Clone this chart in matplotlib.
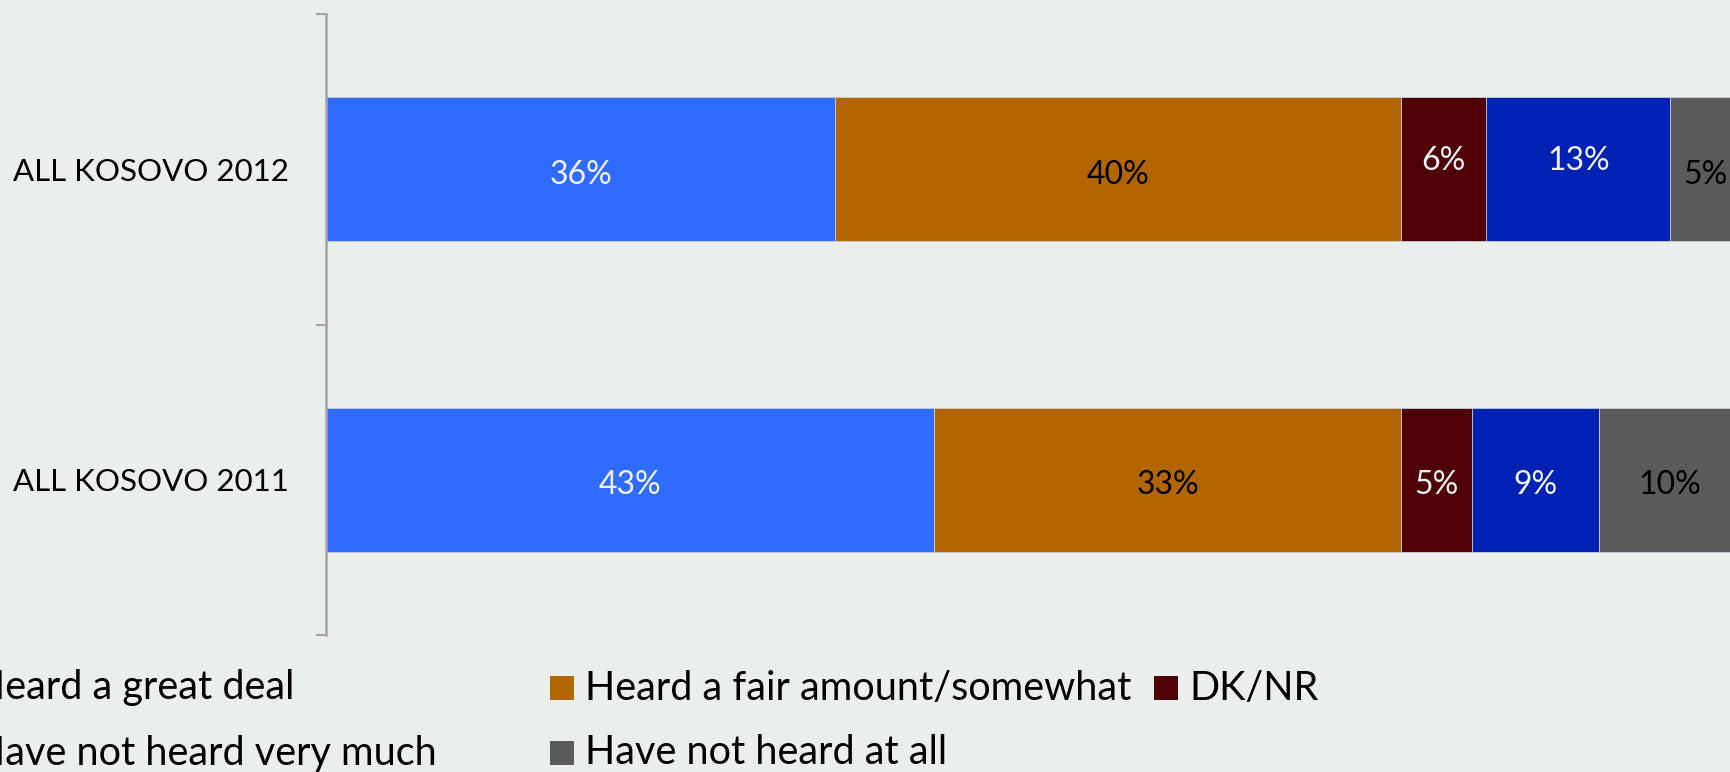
import matplotlib
matplotlib.use("Agg")
import matplotlib.pyplot as plt
from matplotlib.patches import Rectangle

# Survey data: share of respondents per answer, by year
categories = ["ALL KOSOVO 2012", "ALL KOSOVO 2011"]
series_names = [
    "Heard a great deal",
    "Heard a fair amount/somewhat",
    "DK/NR",
    "Have not heard very much",
    "Have not heard at all",
]
great_deal = [36, 43]
fair_amount = [40, 33]
dk_nr = [6, 5]
not_very_much = [13, 9]
not_at_all = [5, 10]

values = [great_deal, fair_amount, dk_nr, not_very_much, not_at_all]
colors = ["#2F6BFF", "#B36600", "#4E0006", "#0022B4", "#5B5B5B"]
label_colors = ["#F2F2F2", "#000000", "#F2F2F2", "#F2F2F2", "#000000"]

W, H = 1731, 772
DPI = 100
BG = "#EBEFEC"
FONT = "Lato"

fig = plt.figure(figsize=(W / DPI, H / DPI), dpi=DPI, facecolor=BG)

# plot area in pixels (left, top, right, bottom); the full 100% runs past the right edge
left_px, top_px, right_px, bottom_px = 326, 14, 1741, 635
ax = fig.add_axes([left_px / W, 1 - bottom_px / H,
                   (right_px - left_px) / W, (bottom_px - top_px) / H])
ax.set_facecolor(BG)
ax.set_xlim(0, 100)
ax.set_ylim(-0.5, 1.5)

ypos = [1, 0]  # first category on top
bar_h = 0.463

lefts = [0, 0]
for si, (vals, col, lcol) in enumerate(zip(values, colors, label_colors)):
    bars = ax.barh(ypos, vals, left=lefts, height=bar_h, color=col,
                   edgecolor="#C9CCD6", linewidth=0.6, label=series_names[si])
    for ci, (b, v) in enumerate(zip(bars, vals)):
        cx = lefts[ci] + v / 2
        # small vertical nudge of the value label inside the bar
        dy = -0.025 if (ci == 0 and si in (2, 3)) else 0.017
        ax.text(cx, ypos[ci] - dy, f"{v}%", ha="center", va="center",
                color=lcol, fontsize=23, family=FONT)
    lefts = [l + v for l, v in zip(lefts, vals)]

# axes styling: only the left category axis is shown
for side in ("top", "right", "bottom"):
    ax.spines[side].set_visible(False)
ax.spines["left"].set_color("#A3A3A3")
ax.spines["left"].set_linewidth(1.8)
ax.set_xticks([])
ax.set_yticks(ypos)
ax.set_yticklabels(categories, fontsize=22.5, family=FONT, color="#000000")
ax.tick_params(axis="y", which="major", length=0, pad=26.6)
ax.set_yticks([-0.5, 0.5, 1.5], minor=True)
ax.tick_params(axis="y", which="minor", length=7.2, width=1.5, color="#A3A3A3")

# legend laid out in two rows, Excel style with fixed column positions
legend_cols_px = [-60, 550, 1154]
legend_rows_px = [688, 753]
legend_order = [(0, 0, 0), (1, 0, 1), (2, 0, 2), (3, 1, 0), (4, 1, 1)]
sw = 24
for si, r, c in legend_order:
    x0 = legend_cols_px[c]
    yc = legend_rows_px[r]
    fig.patches.append(Rectangle((x0 / W, 1 - (yc + sw / 2) / H), sw / W, sw / H,
                                 transform=fig.transFigure, facecolor=colors[si],
                                 edgecolor="none"))
    fig.text((x0 + sw + 11) / W, 1 - yc / H, series_names[si], ha="left",
             va="center", fontsize=28.5, family=FONT, color="#000000")

fig.savefig("out.png", dpi=DPI, facecolor=BG)
